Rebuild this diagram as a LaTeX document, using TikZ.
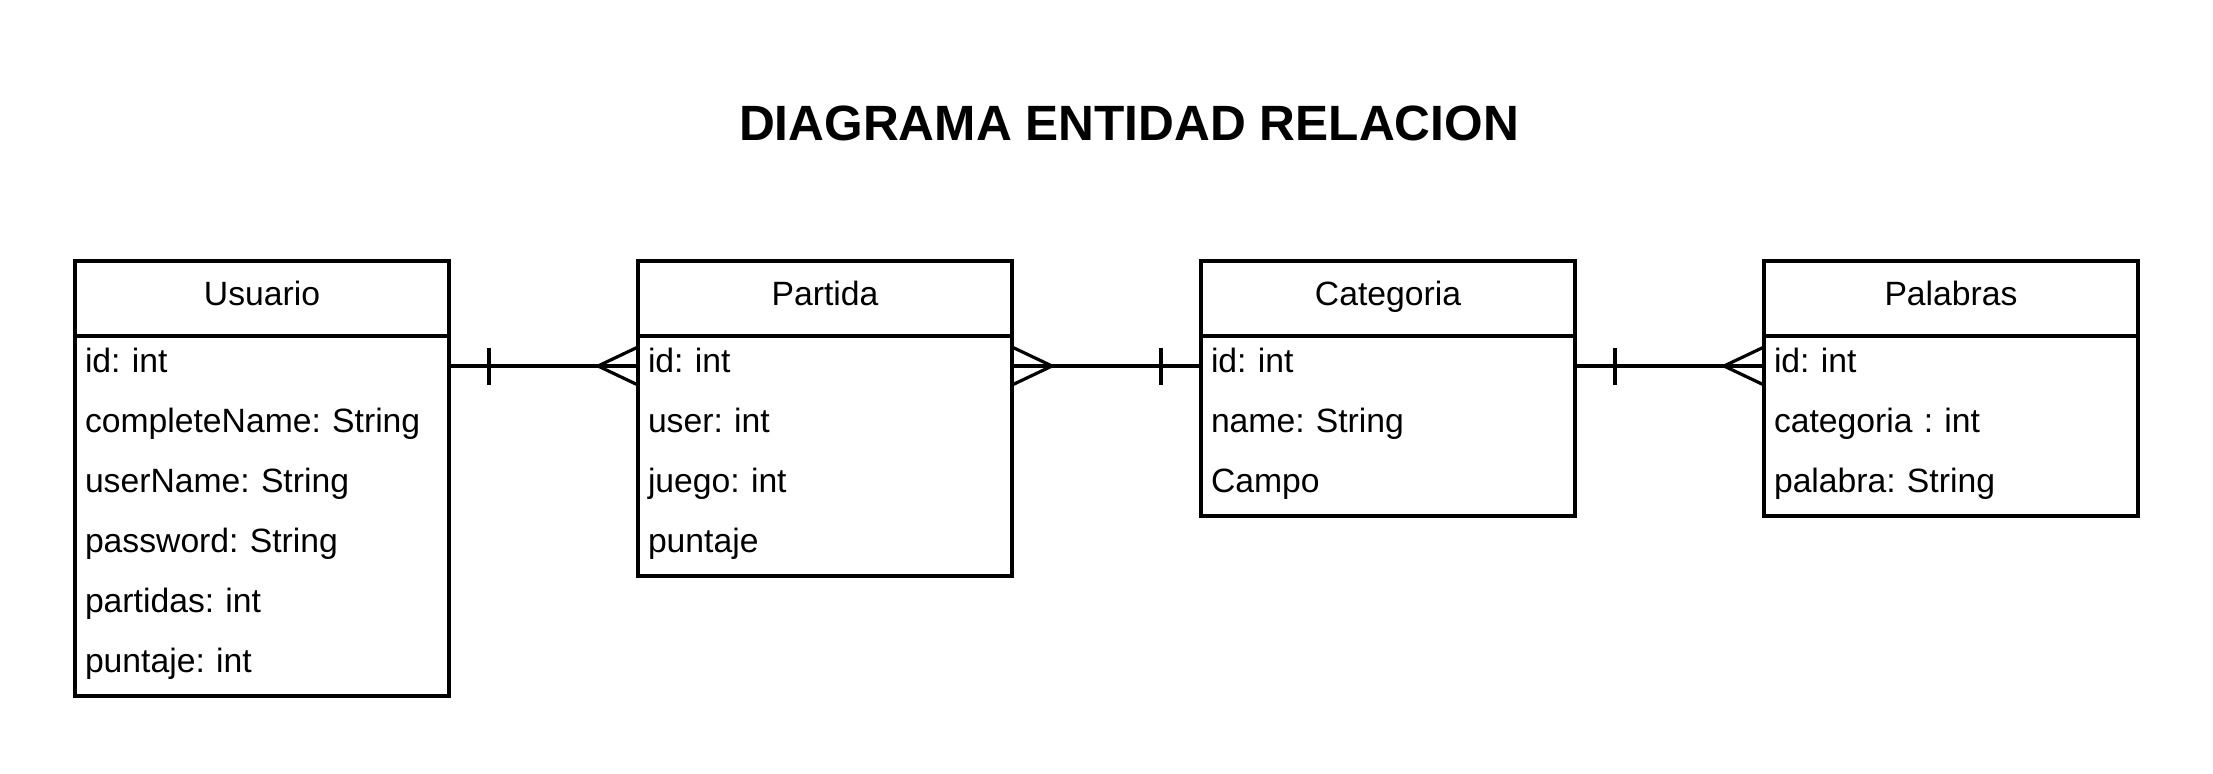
\documentclass[tikz,border=0pt]{standalone}
\usepackage{fontspec}
\setmainfont{Liberation Sans}
\usetikzlibrary{positioning,calc}
\frenchspacing

\begin{document}
\begin{tikzpicture}
 \newcommand{\hY}{-149.25pt}
	\tikzset{entidad/.style = {draw,line width=1.6pt,minimum width=187pt,minimum height=37.5pt,inner sep=0pt,outer sep=0pt,text height=0.88em,text depth=0.21em,font=\fontsize{16.85}{20}\selectfont}}
	\tikzset{campo/.style = {text width=177pt,inner xsep=5pt,inner ysep=0pt,minimum height=30pt,outer sep=0pt,align=left,text height=0.88em,text depth=0.21em,font=\fontsize{16.85}{20}\selectfont}}
	\tikzstyle{cuerpo} = [line width=1.6pt]
	\tikzstyle{rel} = [line width=1.6pt]
	\useasboundingbox (0,0) rectangle (1106.5pt,-386.5pt);
	\node[font=\fontsize{24.8}{30}\selectfont\bfseries] (titulo) at (564.5pt,-61.5pt) {DIAGRAMA ENTIDAD RELACION};
	%Usuario
	\node[entidad] (usuario) at (131pt,\hY) {Usuario};
	\node[campo,below=0pt of usuario] (usuario1) {id: int};
	\node[campo,below=0pt of usuario1] (usuario2) {completeName: String};
	\node[campo,below=0pt of usuario2] (usuario3) {userName: String};
	\node[campo,below=0pt of usuario3] (usuario4) {password: String};
	\node[campo,below=0pt of usuario4] (usuario5) {partidas: int};
	\node[campo,below=0pt of usuario5] (usuario6) {puntaje: int};
	\draw[cuerpo] (usuario.south west) rectangle (usuario6.south east);
	%Partida
	\node[entidad] (partida) at (412.5pt,\hY) {Partida};
	\node[campo,below=0pt of partida] (partida1) {id: int};
	\node[campo,below=0pt of partida1] (partida2) {user: int};
	\node[campo,below=0pt of partida2] (partida3) {juego: int};
	\node[campo,below=0pt of partida3] (partida4) {puntaje};
	\draw[cuerpo] (partida.south west) rectangle (partida4.south east);
	%Categoria
	\node[entidad] (categoria) at (694pt,\hY) {Categoria};
	\node[campo,below=0pt of categoria] (categoria1) {id: int};
	\node[campo,below=0pt of categoria1] (categoria2) {name: String};
	\node[campo,below=0pt of categoria2] (categoria3) {Campo};
	\draw[cuerpo] (categoria.south west) rectangle (categoria3.south east);
	%Palabras
	\node[entidad] (palabras) at (975.5pt,\hY) {Palabras};
	\node[campo,below=0pt of palabras] (palabras1) {id: int};
	\node[campo,below=0pt of palabras1] (palabras2) {categoria : int};
	\node[campo,below=0pt of palabras2] (palabras3) {palabra: String};
	\draw[cuerpo] (palabras.south west) rectangle (palabras3.south east);
	%Usuario - Partida
	\draw[rel] (usuario1.east) -- (partida1.west);
	\draw[rel] ($(usuario1.east)+(20pt,9.25pt)$) -- ++(0,-18.5pt);
	\draw[rel] ($(partida1.west)+(0,9.5pt)$) -- ++(-20pt,-9.5pt) -- ++(20pt,-9.5pt);
	%Partida - Categoria
	\draw[rel] (partida1.east) -- (categoria1.west);
	\draw[rel] ($(categoria1.west)+(-20pt,9.25pt)$) -- ++(0,-18.5pt);
	\draw[rel] ($(partida1.east)+(0,9.5pt)$) -- ++(20pt,-9.5pt) -- ++(-20pt,-9.5pt);
	%Categoria - Palabras
	\draw[rel] (categoria1.east) -- (palabras1.west);
	\draw[rel] ($(categoria1.east)+(20pt,9.25pt)$) -- ++(0,-18.5pt);
	\draw[rel] ($(palabras1.west)+(0,9.5pt)$) -- ++(-20pt,-9.5pt) -- ++(20pt,-9.5pt);
\end{tikzpicture}
\end{document}
